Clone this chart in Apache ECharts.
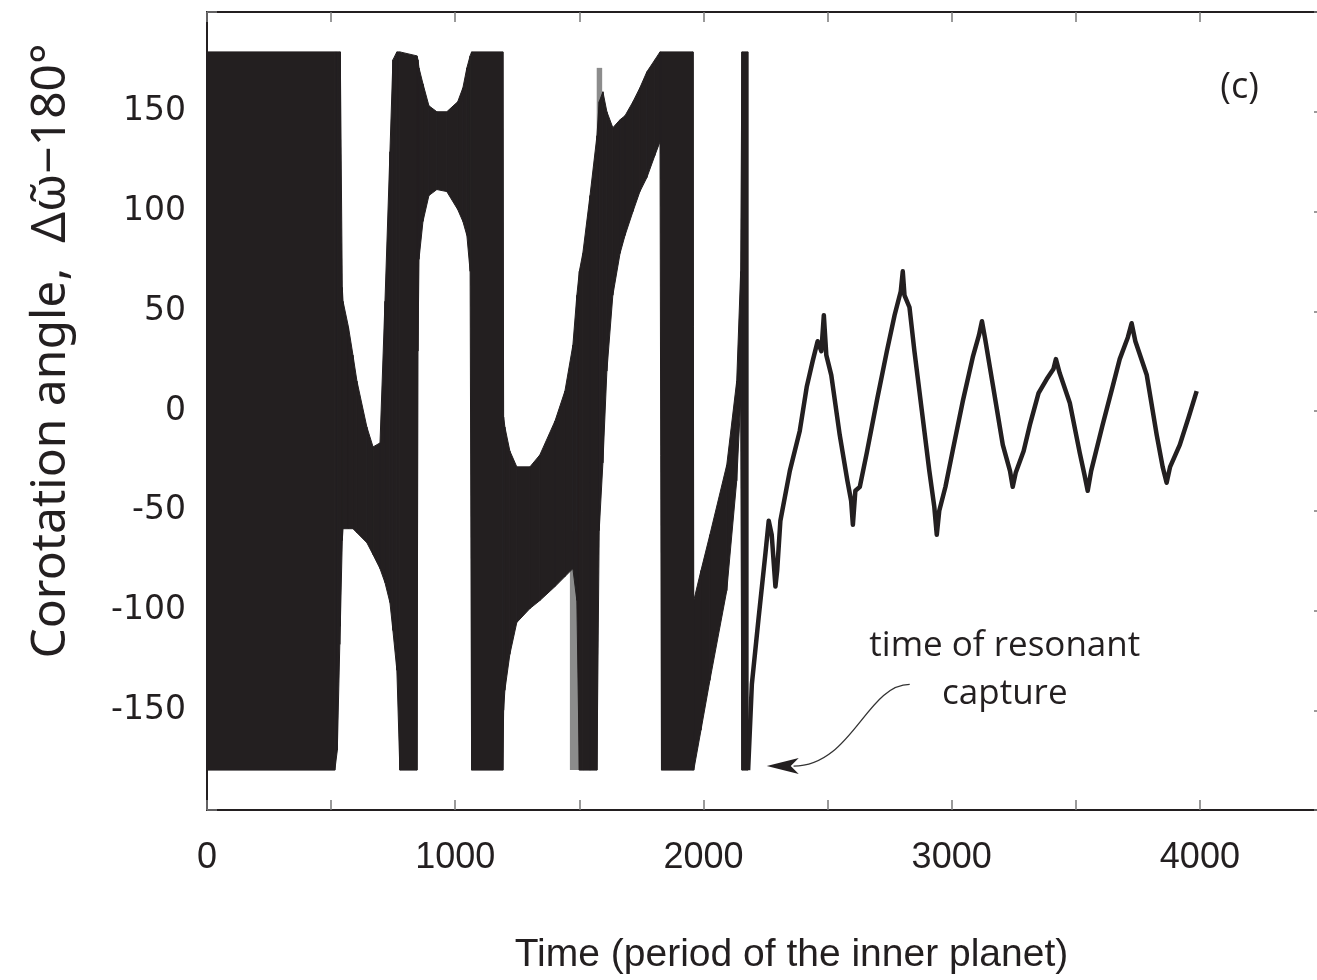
<!DOCTYPE html>
<html>
<head>
<meta charset="utf-8">
<title>Corotation angle</title>
<script src="https://cdn.jsdelivr.net/npm/echarts/dist/echarts.min.js"></script>
<style>
  html, body { margin: 0; padding: 0; background: #fff; }
  #chart { width: 1317px; height: 980px; }
</style>
</head>
<body>
<div id="chart"></div>
<script>
// tick labels shown on the axes
var xTickLabels = [0, 1000, 2000, 3000, 4000];
var yTickLabels = [-150, -100, -50, 0, 50, 100, 150];

// envelope of the fast oscillation before capture: [time, lower, upper]
var envelope = [
  [0, -180, 180], [515, -180, 180], [525, -170, 180], [535, -117, 180], [537, -108, 180],
  [545, -65, 62], [548, -59, 55], [570, -59, 42], [588, -59, 28], [604, -61, 15],
  [644, -66, -8], [669, -72, -18], [697, -79, -16], [717, -86, 55], [737, -96, 130],
  [749, -110, 176], [765, -130, 180], [777, -180, 180], [846, -180, 178], [850, 30, 176],
  [854, 76, 172], [870, 95, 164], [894, 108, 153], [926, 111, 150], [966, 110, 150],
  [1010, 101, 155], [1031, 95, 162], [1047, 88, 172], [1060, 70, 178], [1066, -180, 180],
  [1192, -180, 180], [1195, -150, -3], [1200, -140, -8], [1220, -122, -20], [1248, -106, -28],
  [1301, -99, -28], [1341, -95, -22], [1402, -88, -5], [1442, -83, 10], [1474, -79, 33],
  [1490, -95, 58], [1500, -180, 70], [1514, -180, 79], [1543, -180, 108], [1571, -180, 138],
  [1580, -60, 155], [1595, -26, 160], [1611, 20, 150], [1635, 58, 142], [1664, 79, 146],
  [1684, 88, 148], [1716, 100, 155], [1744, 110, 162], [1772, 117, 170], [1804, 128, 176],
  [1825, 135, 180], [1831, -180, 180], [1958, -180, 180], [1961, -180, -95], [1990, -160, -80],
  [2026, -135, -62], [2094, -90, -27], [2134, -35, 15], [2150, 5, 70], [2155, -180, 180],
  [2180, -180, 180]
];

// grey fringe streaks beside the dense band: [from, to, lower, upper]
var fringe = [
  [1462, 1500, -180, -60], [1570, 1592, 120, 172]
];

// angle after the resonant capture
var captureTime = [
  2180, 2195, 2222, 2250, 2263, 2275, 2290, 2297, 2310, 2348, 2388, 2416, 2440, 2460, 2475,
  2485, 2495, 2515, 2549, 2580, 2595, 2602, 2612, 2630, 2658, 2700, 2739, 2770, 2795, 2803,
  2810, 2830, 2850, 2880, 2910, 2930, 2940, 2950, 2975, 3004, 3045, 3085, 3110, 3122, 3135,
  3166, 3206, 3235, 3246, 3258, 3290, 3315, 3350, 3383, 3410, 3420, 3435, 3476, 3516, 3535,
  3548, 3562, 3608, 3650, 3677, 3710, 3725, 3740, 3786, 3826, 3850, 3866, 3880, 3919, 3955,
  3987
];
var captureAngle = [
  -180, -137, -104, -71, -55, -62, -88, -80, -55, -30, -10, 12, 25, 35, 30,
  48, 28, 18, -12, -35, -45, -57, -40, -38, -21, 6, 30, 48, 60, 70,
  58, 52, 30, 0, -30, -48, -62, -50, -38, -20, 5, 27, 38, 45, 36,
  13, -17, -30, -38, -31, -20, -7, 9, 16, 21, 26, 19, 4, -21, -32,
  -40, -30, -7, 13, 26, 37, 44, 35, 18, -12, -28, -36, -28, -17, -3,
  10
];

// annotation anchors in data units
var noteLines = ['time of resonant', 'capture'];
var noteAnchor = [[3214, -118], [3214, -142]];
var arrowPath = { from: [2831, -137], c1: [2658, -137], c2: [2598, -178], to: [2363, -178], tip: [2255, -178] };
var panelTag = { text: '(c)', at: [4160, 162] };

var ink = '#231f20';
var tickGrey = '#7a7a7a';
var sans = "'Liberation Sans', Arial, sans-serif";

var segments = [];
for (var i = 0; i < envelope.length - 1; i++) {
  segments.push(envelope[i].concat(envelope[i + 1]));
}
var captured = captureTime.map(function (t, k) { return [t, captureAngle[k]]; });

var chart = echarts.init(document.getElementById('chart'), null, { renderer: 'canvas' });

var frameAxis = function (pos) {
  var horiz = pos === 'top' || pos === 'bottom';
  return {
    type: 'value', position: pos,
    min: horiz ? 0 : -200, max: horiz ? 4500 : 200, interval: horiz ? 500 : 50,
    axisLine: { show: true, onZero: false, lineStyle: { color: ink, width: 2 } },
    axisTick: { show: true, inside: true, length: 10, lineStyle: { color: tickGrey, width: 1.5 } },
    axisLabel: { show: false },
    splitLine: { show: false }
  };
};

var xBottom = frameAxis('bottom');
xBottom.axisLabel = {
  show: true, margin: 30, color: ink, fontFamily: sans, fontSize: 36,
  formatter: function (v) { return xTickLabels.indexOf(v) >= 0 ? String(v) : ''; }
};
xBottom.name = 'Time (period of the inner planet)';
xBottom.nameLocation = 'middle';
xBottom.nameGap = 126;
xBottom.nameTextStyle = { color: ink, fontFamily: sans, fontSize: 39, padding: [0, 0, 0, 52] };

var yLeft = frameAxis('left');
yLeft.axisLabel = {
  show: true, margin: 21, color: ink, fontFamily: 'DejaVu Sans', fontSize: 33,
  formatter: function (v) { return yTickLabels.indexOf(v) >= 0 ? String(v) : ''; }
};
yLeft.name = 'Corotation angle,  \u0394\u03c9\u0303\u2212180\u00b0';
yLeft.nameLocation = 'middle';
yLeft.nameGap = 132;
yLeft.nameTextStyle = { color: ink, fontFamily: "'Noto Sans', sans-serif", fontSize: 48, padding: [0, 0, 0, 120] };

var option = {
  backgroundColor: '#fff',
  animation: false,
  grid: { left: 207, right: -7, top: 12, bottom: 170, containLabel: false, outerBoundsMode: 'none' },
  xAxis: [xBottom, frameAxis('top')],
  yAxis: [yLeft, frameAxis('right')],
  series: [
    {
      type: 'custom',
      name: 'fringe',
      data: fringe,
      encode: { x: [0, 1], y: [2, 3] },
      renderItem: function (params, api) {
        var a = api.coord([api.value(0), api.value(3)]);
        var b = api.coord([api.value(1), api.value(2)]);
        return {
          type: 'rect',
          shape: { x: a[0], y: a[1], width: b[0] - a[0], height: b[1] - a[1] },
          style: { fill: '#8c8c8c' }
        };
      },
      z: 1
    },
    {
      type: 'custom',
      name: 'envelope',
      data: segments,
      encode: { x: [0, 3], y: [1, 2, 4, 5] },
      renderItem: function (params, api) {
        var a = api.coord([api.value(0), api.value(2)]);
        var b = api.coord([api.value(3), api.value(5)]);
        var c = api.coord([api.value(3), api.value(4)]);
        var d = api.coord([api.value(0), api.value(1)]);
        return {
          type: 'polygon',
          shape: { points: [a, b, c, d] },
          style: { fill: ink, stroke: ink, lineWidth: 1 }
        };
      },
      z: 2
    },
    {
      type: 'line',
      name: 'captured',
      data: captured,
      showSymbol: false,
      symbol: 'none',
      lineStyle: { color: ink, width: 4.5, join: 'round' },
      z: 3
    }
  ]
};
chart.setOption(option);

// annotation placed from data anchors
var px = function (d) { return chart.convertToPixel({ seriesIndex: 2 }, d); };
var p0 = px(arrowPath.from), p1 = px(arrowPath.c1), p2 = px(arrowPath.c2), p3 = px(arrowPath.to), tip = px(arrowPath.tip);
var tag = px(panelTag.at);
var graphics = noteLines.map(function (s, k) {
  var p = px(noteAnchor[k]);
  return {
    type: 'text', x: p[0], y: p[1], z: 10,
    style: { text: s, fill: ink, font: "35px 'Open Sans'", textAlign: 'center', textVerticalAlign: 'middle' }
  };
});
graphics.push({
  type: 'bezierCurve', z: 10,
  shape: { x1: p0[0], y1: p0[1], cpx1: p1[0], cpy1: p1[1], cpx2: p2[0], cpy2: p2[1], x2: p3[0], y2: p3[1] },
  style: { stroke: '#333', lineWidth: 1.3, fill: null }
});
graphics.push({
  type: 'polygon', z: 10,
  shape: { points: [[tip[0], tip[1]], [tip[0] + 32, tip[1] - 8], [tip[0] + 24, tip[1]], [tip[0] + 32, tip[1] + 8]] },
  style: { fill: ink }
});
graphics.push({
  type: 'text', x: tag[0], y: tag[1], z: 10,
  style: { text: panelTag.text, fill: ink, font: "36px 'Open Sans'", textAlign: 'center', textVerticalAlign: 'middle' }
});
chart.setOption({ graphic: graphics });
</script>
</body>
</html>
